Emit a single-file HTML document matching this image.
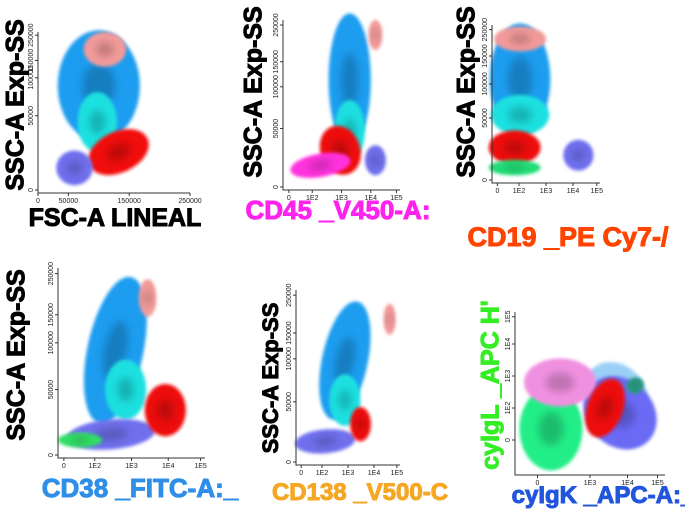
<!DOCTYPE html>
<html><head><meta charset="utf-8"><style>
body{margin:0;background:#fff;width:685px;height:511px;overflow:hidden}
svg{display:block}
.tt{font-family:"Liberation Sans",sans-serif;font-weight:bold}
.tk{font-family:"Liberation Sans",sans-serif;font-size:7px;fill:#222}
</style></head><body>
<svg id="c" width="685" height="511">
<defs>
<filter id="b" x="-50%" y="-50%" width="200%" height="200%"><feGaussianBlur stdDeviation="1.6"/></filter>
<filter id="b2" x="-50%" y="-50%" width="200%" height="200%"><feGaussianBlur stdDeviation="4"/></filter>
</defs>
</svg>
<script>
// panel frames (layout)
const panels=[
 {id:'fsc',x0:38,x1:190,yb:190,ytop:32,ytitle:'SSC-A Exp-SS',ytx:17,yty:105,ys:25,xtitle:'FSC-A LINEAL',xtx:115,xty:226,xcol:'#000',ycol:'#000',xs:25,
  xt:['0','50000','150000','250000'],xtf:[0,0.2,0.6,1],yt:['0','50000','100000','150000','250000'],ytf:[0,0.47,0.71,0.82,0.98]},
 {id:'cd45',x0:283,x1:400,yb:187,ytop:20,ytitle:'SSC-A Exp-SS',ytx:255,yty:92,ys:25,xtitle:'CD45 _V450-A:',xtx:338,xty:219,xcol:'#ff22ee',ycol:'#000',xs:26,
  xt:['0','1E2','1E3','1E4','1E5'],xtf:[0.05,0.25,0.5,0.75,0.97],yt:['0','50000','100000','150000','250000'],ytf:[0,0.35,0.6,0.75,0.97]},
 {id:'cd19',x0:492,x1:600,yb:180,ytop:25,ytitle:'SSC-A Exp-SS',ytx:468,yty:92,ys:25,xtitle:'CD19 _PE Cy7-/',xtx:568,xty:246,xcol:'#ff4400',ycol:'#000',xs:27,
  xt:['0','1E2','1E3','1E4','1E5'],xtf:[0.05,0.25,0.5,0.75,0.97],yt:['0','50000','100000','150000','250000'],ytf:[0,0.4,0.62,0.8,0.97]},
 {id:'cd38',x0:58,x1:205,yb:455,ytop:268,ytitle:'SSC-A Exp-SS',ytx:18,yty:355,ys:25,xtitle:'CD38 _FITC-A:_',xtx:140,xty:497,xcol:'#2f8fe8',ycol:'#000',xs:26,
  xt:['0','1E2','1E3','1E4','1E5'],xtf:[0.04,0.25,0.5,0.75,0.97],yt:['0','50000','100000','150000','250000'],ytf:[0,0.35,0.6,0.75,0.97]},
 {id:'cd138',x0:296,x1:400,yb:462,ytop:290,ytitle:'SSC-A Exp-SS',ytx:272,yty:378,ys:22,xtitle:'CD138 _V500-C',xtx:360,xty:500,xcol:'#f5a623',ycol:'#000',xs:24,
  xt:['0','1E2','1E3','1E4','1E5'],xtf:[0.05,0.25,0.5,0.75,0.97],yt:['0','50000','100000','150000','250000'],ytf:[0,0.35,0.6,0.75,0.97]},
 {id:'igk',x0:515,x1:665,yb:472,ytop:312,ytitle:'cyIgL _APC H\'',ytx:492,yty:385,ys:25,xtitle:'cyIgK _APC-A:_',xtx:603,xty:503,xcol:'#2255dd',ycol:'#33ee22',xs:24,
  xt:['0','1E3','1E4','1E5'],xtf:[0.15,0.5,0.75,0.95],yt:['0','1E2','1E3','1E4','1E5'],ytf:[0.2,0.4,0.6,0.8,0.97]}
];
// populations: panel index, position fractions, radii fractions, rotation, colour
const popPanel=[0,0,0,0,0, 1,1,1,1,1,1, 2,2,2,2,2,2, 3,3,3,3,3,3, 4,4,4,4,4, 5,5,5,5,5,5];
const popX=[.40,.44,.39,.53,.24, .57,.79,.57,.49,.32,.79, .26,.26,.26,.21,.21,.80, .39,.61,.46,.36,.73,.15, .47,.90,.47,.28,.62, .67,.24,.70,.30,.60,.80];
const popY=[.66,.89,.43,.24,.14, .64,.91,.34,.22,.13,.16, .65,.91,.42,.21,.08,.16, .56,.84,.35,.11,.24,.08, .59,.83,.36,.12,.22, .48,.27,.37,.56,.40,.54];
const popRX=[.27,.14,.13,.21,.12, .18,.06,.13,.17,.26,.09, .28,.24,.27,.24,.24,.14, .19,.06,.14,.30,.14,.15, .22,.06,.15,.29,.10, .20,.21,.22,.24,.12,.06];
const popRY=[.35,.11,.19,.13,.11, .40,.09,.18,.15,.07,.09, .36,.08,.13,.11,.05,.10, .40,.10,.16,.08,.14,.04, .35,.09,.15,.07,.10, .22,.26,.25,.15,.19,.05];
const popRot=[0,0,0,-25,0, 0,0,0,-20,-10,0, 0,0,0,0,0,0, 12,0,0,-5,0,0, 12,0,0,-5,0, -40,0,-45,0,20,-30];
const popCol=['#1e9df0','#f29a9a','#1ee0e0','#f21010','#7070ee',
 '#1e9df0','#f29a9a','#1ee0e0','#ee1010','#ff33dd','#7070ee',
 '#1e9df0','#f29a9a','#1ee0e0','#ee1010','#22dd77','#7070ee',
 '#1e9df0','#f29a9a','#1ee0e0','#7070ee','#ee1010','#33dd66',
 '#1e9df0','#f29a9a','#1ee0e0','#7070ee','#ee1010',
 '#9ad0f5','#22ee88','#6a6af5','#f090e0','#ee1010','#2a9a80'];
const NS='http://www.w3.org/2000/svg';
const svg=document.getElementById('c');
function mk(t,a){const e=document.createElementNS(NS,t);for(const k in a)e.setAttribute(k,a[k]);return e;}
function sx(p,f){return p.x0+f*(p.x1-p.x0);}
function sy(p,f){return p.yb-f*(p.yb-p.ytop);}
panels.forEach((p,i)=>{
 const g=mk('g',{});
 
 
 svg.appendChild(g);
 const pg=mk('g',{});
 
 
 g.appendChild(pg);
 popPanel.forEach((pi,k)=>{
  if(pi!==i)return;
  const cx=sx(p,popX[k]),cy=sy(p,popY[k]),rx=popRX[k]*(p.x1-p.x0),ry=popRY[k]*(p.yb-p.ytop);
  const tr='rotate('+popRot[k]+' '+cx+' '+cy+')';
  const e=mk('ellipse',{cx:cx,cy:cy,rx:rx,ry:ry,fill:popCol[k],filter:'url(#b)',transform:tr});
  
  
  pg.appendChild(e);
  const d=mk('ellipse',{cx:cx,cy:cy,rx:rx*0.4,ry:ry*0.4,fill:'#000',opacity:0.2,filter:'url(#b2)',transform:tr});
  
  
  pg.appendChild(d);
 });
 const ax=mk('path',{d:'M'+p.x0+' '+p.ytop+'V'+(p.yb+3)+'H'+p.x1,stroke:'#333',fill:'none','stroke-width':1});
 
 
 g.appendChild(ax);
 p.xt.forEach((t,j)=>{
  const x=sx(p,p.xtf[j]);
  g.appendChild(mk('line',{x1:x,x2:x,y1:p.yb+3,y2:p.yb+6,stroke:'#333'}));
  const tx=mk('text',{x:x,y:p.yb+13,'text-anchor':'middle',class:'tk'});tx.textContent=t;
  
  
  g.appendChild(tx);
 });
 p.yt.forEach((t,j)=>{
  const y=sy(p,p.ytf[j]);
  g.appendChild(mk('line',{x1:p.x0-3,x2:p.x0,y1:y,y2:y,stroke:'#333'}));
  const tx=mk('text',{x:p.x0-5,y:y,'text-anchor':'middle',class:'tk',transform:'rotate(-90 '+(p.x0-5)+' '+y+')'});tx.textContent=t;
  
  
  g.appendChild(tx);
 });
 const xt=mk('text',{x:p.xtx,y:p.xty,'text-anchor':'middle',class:'tt',fill:p.xcol,stroke:p.xcol,'stroke-width':1,'font-size':p.xs});xt.textContent=p.xtitle;
 
 
 g.appendChild(xt);
 const yt=mk('text',{x:p.ytx,y:p.yty,'text-anchor':'middle',class:'tt',fill:p.ycol,stroke:p.ycol,'stroke-width':1,'font-size':p.ys,transform:'rotate(-90 '+p.ytx+' '+p.yty+')','dominant-baseline':'middle'});yt.textContent=p.ytitle;
 
 
 g.appendChild(yt);
});
</script>
</body></html>
